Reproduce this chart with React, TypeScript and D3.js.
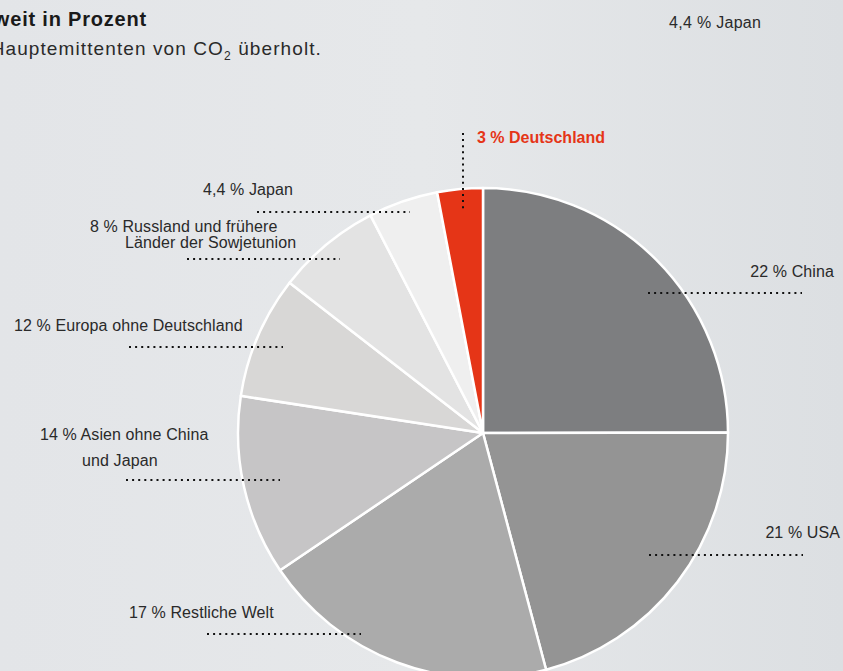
import * as d3 from "d3"

// slices, clockwise from 12 o'clock
const regions = ["China", "USA", "Restliche Welt", "Asien ohne China und Japan", "Europa ohne Deutschland", "Russland und frühere Länder der Sowjetunion", "Japan", "Deutschland"]
// printed percentages
const labelValues = ["22", "21", "17", "14", "12", "8", "4,4", "3"]
// slice shares as drawn in the graphic
const sliceShares = [25, 20.9, 19.7, 11.9, 8.1, 6.9, 4.6, 3.0]
const sliceColors = ["#7d7e80", "#949494", "#ababab", "#c6c5c6", "#d8d7d6", "#e3e3e3", "#efefef", "#e53517"]

// label text lines per slice
const labelLines = [
  ["22 % China"],
  ["21 % USA"],
  ["17 % Restliche Welt"],
  ["14 % Asien ohne China", "und Japan"],
  ["12 % Europa ohne Deutschland"],
  ["8 % Russland und frühere", "Länder der Sowjetunion"],
  ["4,4 % Japan"],
  ["3 % Deutschland"],
]

const width = 843
const height = 671
const cx = 483
const cy = 433
const radius = 245

// annotation layout: text anchor + dotted leader line
const layout = [
  { x: 834, y: 277, anchor: "end", lineX: [0], lead: [648, 293, 802, 293] },
  { x: 840, y: 538, anchor: "end", lineX: [0], lead: [649, 555, 803, 555] },
  { x: 129, y: 618, anchor: "start", lineX: [0], lead: [207, 634, 361, 634] },
  { x: 40, y: 440, anchor: "start", lineX: [0, 42], lineY: [0, 26], lead: [126, 480, 280, 480] },
  { x: 14, y: 331, anchor: "start", lineX: [0], lead: [129, 347, 283, 347] },
  { x: 90, y: 232, anchor: "start", lineX: [0, 35], lineY: [0, 16], lead: [187, 259, 340, 259] },
  { x: 203, y: 195, anchor: "start", lineX: [0], lead: [257, 212, 410, 212] },
  { x: 477, y: 143, anchor: "start", lineX: [0], lead: [463, 133, 463, 210] },
]

const font = "'Liberation Sans', Arial, Helvetica, sans-serif"

export default function App() {
  const data = regions.map((name, i) => ({ name, share: sliceShares[i], label: labelValues[i], color: sliceColors[i] }))
  const pie = d3.pie<typeof data[number]>().sort(null).value(d => d.share)
  const arcs = pie(data)
  const arc = d3.arc<d3.PieArcDatum<typeof data[number]>>().innerRadius(0).outerRadius(radius)

  return (
    <svg
      width={width}
      height={height}
      viewBox={`0 0 ${width} ${height}`}
      style={{ position: "absolute", left: 0, top: 0, display: "block" }}
      xmlns="http://www.w3.org/2000/svg"
    >
      <defs>
        <linearGradient id="bg" x1="0" x2="1" y1="0" y2="0">
          <stop offset="0" stopColor="#e3e5e8" />
          <stop offset="0.5" stopColor="#e6e8ea" />
          <stop offset="1" stopColor="#dcdfe2" />
        </linearGradient>
      </defs>
      <rect x={0} y={0} width={width} height={height} fill="url(#bg)" />

      {/* header (cropped on the left) */}
      <text x={147} y={26} textAnchor="end" fontFamily={font} fontWeight="bold" fontSize={20} letterSpacing={0.8} fill="#1a1a1a">
        CO₂-Emissionen weltweit in Prozent
      </text>
      <text x={322} y={55} textAnchor="end" fontFamily={font} fontSize={19} letterSpacing={1.1} fill="#2a2a2a">
        China hat die USA als Hauptemittenten von CO<tspan dy={5} fontSize={12}>2</tspan><tspan dy={-5}> überholt.</tspan>
      </text>
      <text x={669} y={28} fontFamily={font} fontSize={16} letterSpacing={0.3} fill="#2a2a2a">4,4 % Japan</text>

      <g transform={`translate(${cx}, ${cy})`}>
        {arcs.map((a, i) => (
          <path key={i} d={arc(a) ?? ""} fill={a.data.color} stroke="#ffffff" strokeWidth={2.5} strokeLinejoin="round" />
        ))}
      </g>

      {layout.map((l, i) => {
        const isDe = i === 7
        return (
          <g key={i}>
            <line
              x1={l.lead[0]} y1={l.lead[1]} x2={l.lead[2]} y2={l.lead[3]}
              stroke="#111" strokeWidth={2} strokeDasharray="2 4.1"
            />
            {labelLines[i].map((t, j) => (
              <text
                key={j}
                x={l.x + (l.lineX[j] ?? 0)}
                y={l.y + (l.lineY ? l.lineY[j] : 0)}
                textAnchor={l.anchor as any}
                fontFamily={font}
                fontSize={16}
                letterSpacing={isDe ? 0 : 0.1}
                fontWeight={isDe ? "bold" : "normal"}
                fill={isDe ? "#e53517" : "#2a2a2a"}
              >
                {t}
              </text>
            ))}
          </g>
        )
      })}
    </svg>
  )
}
